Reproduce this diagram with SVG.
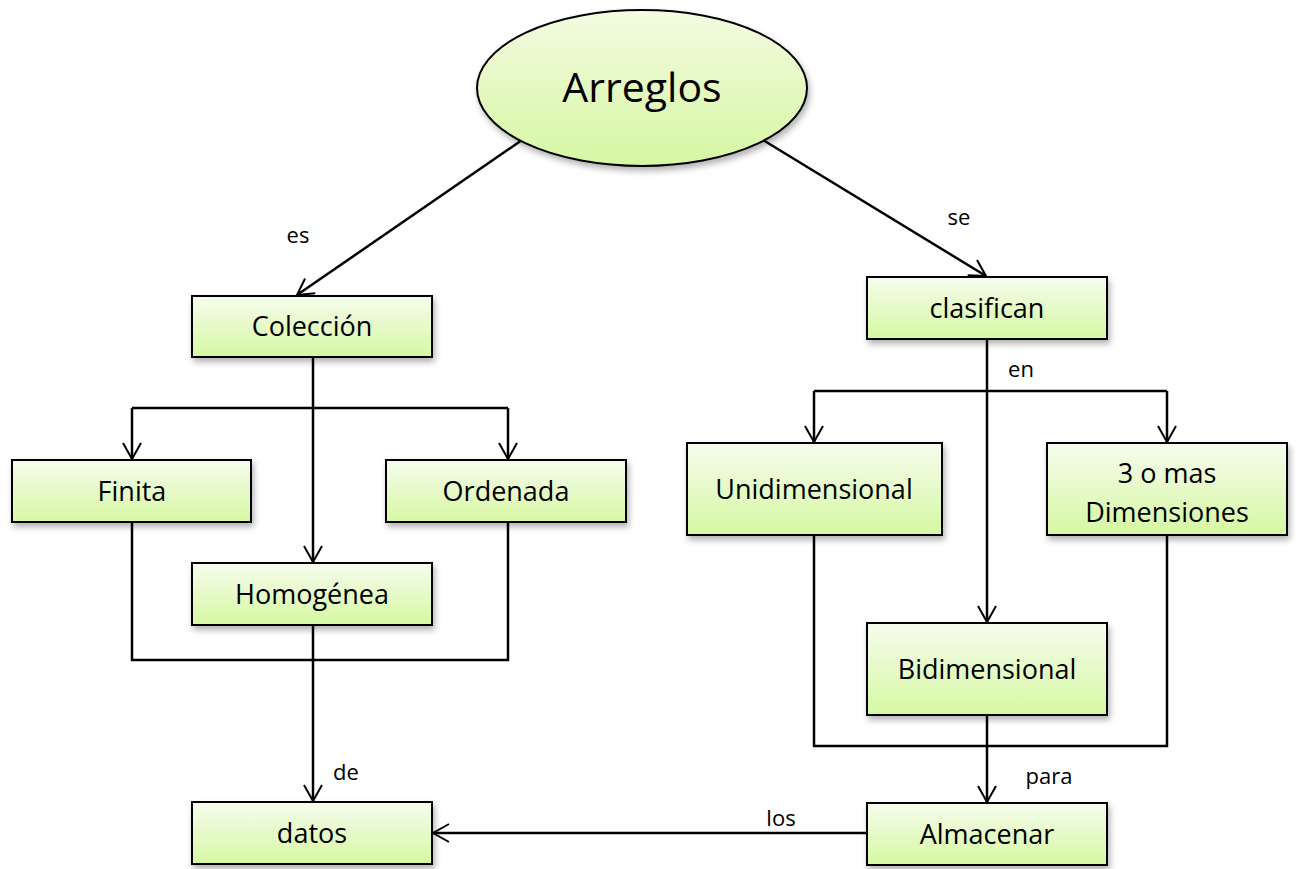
<svg xmlns="http://www.w3.org/2000/svg" width="1298" height="869" viewBox="0 0 1298 869">
  <defs>
    <linearGradient id="boxFill" x1="0" y1="0" x2="0" y2="1">
      <stop offset="0" stop-color="#f6fcee"/>
      <stop offset="1" stop-color="#d6f8a2"/>
    </linearGradient>
    <linearGradient id="ovalFill" x1="0" y1="0" x2="0" y2="1">
      <stop offset="0" stop-color="#f3fbe2"/>
      <stop offset="1" stop-color="#d6f7a2"/>
    </linearGradient>
    <filter id="shadow" x="-20%" y="-30%" width="140%" height="170%">
      <feDropShadow dx="2" dy="4" stdDeviation="3" flood-color="#000" flood-opacity="0.3"/>
    </filter>
    <marker id="arrow" viewBox="0 0 20 20" refX="18" refY="10" markerWidth="20" markerHeight="20" markerUnits="userSpaceOnUse" orient="auto">
      <path d="M2,1 L18,10 L2,19" fill="none" stroke="#000" stroke-width="2"/>
    </marker>
    <style>
      .box { fill: url(#boxFill); stroke: #000; stroke-width: 2; filter: url(#shadow); }
      .oval { fill: url(#ovalFill); stroke: #000; stroke-width: 2; filter: url(#shadow); }
      .txt { font-family: "Open Sans", "Liberation Sans", sans-serif; font-size: 27px; fill: #000; text-anchor: middle; }
      .big { font-size: 41px; }
      .lbl { font-family: "Open Sans", "Liberation Sans", sans-serif; font-size: 22px; fill: #000; text-anchor: middle; }
      .line { fill: none; stroke: #000; stroke-width: 2.5; }
      .arr { marker-end: url(#arrow); }
    </style>
  </defs>
  <rect width="1298" height="869" fill="#fff"/>

  <!-- connectors -->
  <g id="connectors">
    <path class="line arr" d="M522,140 L297,295"/>
    <path class="line arr" d="M763,140 L986,276"/>
    <!-- Colección branches -->
    <path class="line arr" d="M313,357 L313,562"/>
    <path class="line" d="M132,408 L508,408"/>
    <path class="line arr" d="M132,408 L132,459"/>
    <path class="line arr" d="M508,408 L508,459"/>
    <!-- merge toward datos -->
    <path class="line" d="M132,522 L132,660 L508,660 L508,522"/>
    <path class="line arr" d="M313,625 L313,801"/>
    <!-- clasifican branches -->
    <path class="line arr" d="M987,339 L987,622"/>
    <path class="line" d="M814,391 L1167,391"/>
    <path class="line arr" d="M814,391 L814,442"/>
    <path class="line arr" d="M1167,391 L1167,442"/>
    <!-- merge toward Almacenar -->
    <path class="line" d="M814,535 L814,746 L1167,746 L1167,535"/>
    <path class="line arr" d="M987,715 L987,802"/>
    <!-- Almacenar to datos -->
    <path class="line arr" d="M867,833 L433,833"/>
    <text class="lbl" x="298" y="243">es</text>
    <text class="lbl" x="959" y="225">se</text>
    <text class="lbl" x="1021" y="377">en</text>
    <text class="lbl" x="346" y="780">de</text>
    <text class="lbl" x="1049" y="784">para</text>
    <text class="lbl" x="781" y="826">los</text>
  </g>

  <g id="arreglos">
    <ellipse class="oval" cx="642" cy="88" rx="165" ry="78"/>
    <text class="txt big" x="642" y="102">Arreglos</text>
  </g>
  <g id="coleccion">
    <rect class="box" x="192" y="296" width="240" height="61"/>
    <text class="txt" x="312" y="336">Colección</text>
  </g>
  <g id="finita">
    <rect class="box" x="12" y="460" width="239" height="62"/>
    <text class="txt" x="132" y="501">Finita</text>
  </g>
  <g id="ordenada">
    <rect class="box" x="386" y="460" width="240" height="62"/>
    <text class="txt" x="506" y="501">Ordenada</text>
  </g>
  <g id="homogenea">
    <rect class="box" x="192" y="563" width="240" height="62"/>
    <text class="txt" x="312" y="604">Homogénea</text>
  </g>
  <g id="datos">
    <rect class="box" x="192" y="802" width="240" height="62"/>
    <text class="txt" x="312" y="843">datos</text>
  </g>
  <g id="clasifican">
    <rect class="box" x="867" y="277" width="240" height="62"/>
    <text class="txt" x="987" y="318">clasifican</text>
  </g>
  <g id="unidimensional">
    <rect class="box" x="687" y="443" width="255" height="92"/>
    <text class="txt" x="814" y="499">Unidimensional</text>
  </g>
  <g id="tres-dimensiones">
    <rect class="box" x="1047" y="443" width="240" height="92"/>
    <text class="txt" x="1167" y="483">3 o mas</text>
    <text class="txt" x="1167" y="522">Dimensiones</text>
  </g>
  <g id="bidimensional">
    <rect class="box" x="867" y="623" width="240" height="92"/>
    <text class="txt" x="987" y="679">Bidimensional</text>
  </g>
  <g id="almacenar">
    <rect class="box" x="867" y="803" width="240" height="62"/>
    <text class="txt" x="987" y="844">Almacenar</text>
  </g>
</svg>
